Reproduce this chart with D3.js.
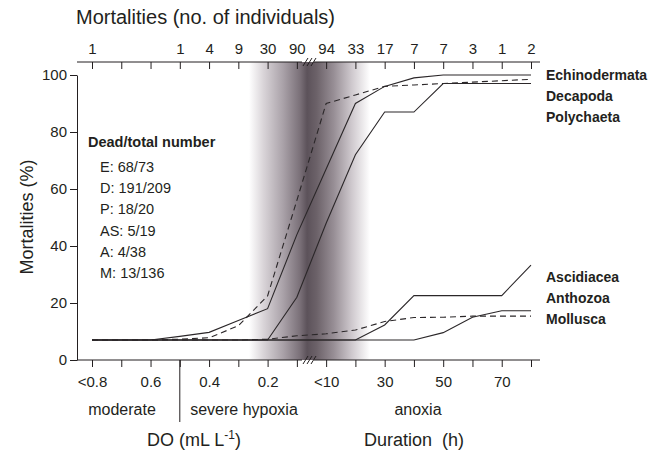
<!DOCTYPE html>
<html>
<head>
<meta charset="utf-8">
<script src="https://cdn.jsdelivr.net/npm/d3@7"></script>
<style>
  body { margin: 0; background: #fff; }
  svg { font-family: 'Liberation Sans', Arial, sans-serif; fill: #231f20; }
  .axis text { font-size: 15px; fill: #231f20; }
  .axis line, .axis path { stroke: #231f20; }
</style>
</head>
<body>
<div id="chart"></div>
<script>
// positions along the (broken) x axis: DO classes, then anoxia duration
const doLabels = ['<0.8', '', '0.6', '', '0.4', '', '0.2', '', '<10', '', '30', '', '50', '', '70', '']
const mortalityCounts = ['1', '', '', '1', '4', '9', '30', '90', '94', '33', '17', '7', '7', '3', '1', '2']
const yTicks = [0, 20, 40, 60, 80, 100]

const echinodermata = [7, 7, 7, 8.3, 9.7, 13.9, 18, 44, 67, 90, 96, 99, 100, 100, 100, 100]
const decapoda      = [7, 7, 7, 7.3, 7.8, 12, 22.5, 56, 90, 93, 96, 96.5, 97, 97.5, 98, 98.5]
const polychaeta    = [7, 7, 7, 7, 7, 7, 7, 22, 48, 72, 87, 87, 97, 97, 97, 97]
const ascidiacea    = [7, 7, 7, 7, 7, 7, 7, 7, 7, 7, 12.3, 22.6, 22.6, 22.6, 22.6, 33.3]
const anthozoa      = [7, 7, 7, 7, 7, 7, 7, 7, 7, 7, 7, 7, 9.6, 15, 17.3, 17.3]
const mollusca      = [7, 7, 7, 7, 7, 7, 7.3, 8.5, 9.2, 10.5, 13.5, 14.9, 15, 15.4, 15.4, 15.4]

const taxaUpper = ['Echinodermata', 'Decapoda', 'Polychaeta']
const taxaLower = ['Ascidiacea', 'Anthozoa', 'Mollusca']
const deadTotal = ['E: 68/73', 'D: 191/209', 'P: 18/20', 'AS: 5/19', 'A: 4/38', 'M: 13/136']
const zones = ['moderate', 'severe hypoxia', 'anoxia']

const series = [
  { name: 'Echinodermata', values: echinodermata, dashed: false },
  { name: 'Decapoda', values: decapoda, dashed: true },
  { name: 'Polychaeta', values: polychaeta, dashed: false },
  { name: 'Ascidiacea', values: ascidiacea, dashed: false },
  { name: 'Anthozoa', values: anthozoa, dashed: false },
  { name: 'Mollusca', values: mollusca, dashed: true }
]

const config = {
  width: 670, height: 454,
  plot: { left: 77, right: 540, top: 62, bottom: 360 },
  yTop: 75,
  breakX: 302
}

const svg = d3.select('#chart').append('svg')
  .attr('width', config.width)
  .attr('height', config.height)

const x = d3.scalePoint()
  .domain(d3.range(doLabels.length))
  .range([92, 531])

const y = d3.scaleLinear()
  .domain([0, 100])
  .range([config.plot.bottom, config.yTop])

// grey band around the hypoxia / anoxia transition
const grad = svg.append('defs').append('linearGradient')
  .attr('id', 'band')
  .attr('x1', 0).attr('x2', 1).attr('y1', 0).attr('y2', 0)
grad.selectAll('stop')
  .data([[0, '#ffffff'], [0.12, '#d9d4d8'], [0.28, '#aaa2a9'], [0.42, '#7b7179'], [0.48, '#5c525a'],
         [0.56, '#6c6269'], [0.7, '#978e95'], [0.85, '#cfc9ce'], [1, '#ffffff']])
  .join('stop')
  .attr('offset', d => d[0])
  .attr('stop-color', d => d[1])

svg.append('rect')
  .attr('x', 249).attr('width', 121)
  .attr('y', config.plot.top).attr('height', config.plot.bottom - config.plot.top)
  .attr('fill', 'url(#band)')

// y axis
svg.append('g')
  .attr('class', 'axis y')
  .attr('transform', `translate(${config.plot.left},0)`)
  .call(d3.axisLeft(y).tickValues(yTicks).tickSize(7).tickSizeOuter(0).tickPadding(3))

// bottom axis
svg.append('g')
  .attr('class', 'axis x bottom')
  .attr('transform', `translate(0,${config.plot.bottom})`)
  .call(d3.axisBottom(x).tickSize(7).tickPadding(9).tickFormat(i => doLabels[i]))
  .call(g => g.select('.domain').remove())

// top axis
svg.append('g')
  .attr('class', 'axis x top')
  .attr('transform', `translate(0,${config.plot.top})`)
  .call(d3.axisTop(x).tickSize(-7).tickPadding(8).tickFormat(i => mortalityCounts[i]))
  .call(g => g.select('.domain').remove())

// axis lines with the break
const axisLine = svg.append('g').attr('stroke', '#231f20').attr('stroke-width', 1)
;[config.plot.top, config.plot.bottom].forEach(yy => {
  axisLine.append('line').attr('x1', config.plot.left).attr('x2', config.breakX).attr('y1', yy).attr('y2', yy)
  axisLine.append('line').attr('x1', config.breakX + 12).attr('x2', config.plot.right).attr('y1', yy).attr('y2', yy)
  d3.range(3).forEach(k => {
    axisLine.append('line')
      .attr('x1', config.breakX + 1 + k * 4).attr('y1', yy + 4)
      .attr('x2', config.breakX + 6 + k * 4).attr('y2', yy - 4)
  })
})

// long divider between moderate and severe hypoxia
axisLine.append('line')
  .attr('x1', x(3)).attr('x2', x(3))
  .attr('y1', config.plot.bottom).attr('y2', 422)

// mortality curves
const line = d3.line()
  .x((d, i) => x(i))
  .y(d => y(d))

svg.append('g')
  .attr('class', 'curves')
  .selectAll('path')
  .data(series)
  .join('path')
  .attr('d', d => line(d.values))
  .attr('fill', 'none')
  .attr('stroke', '#2b2729')
  .attr('stroke-width', 1.1)
  .attr('stroke-dasharray', d => d.dashed ? '6,4' : null)

// taxa labels
svg.append('g')
  .attr('font-size', 14)
  .attr('font-weight', 'bold')
  .call(g => g.selectAll('text.upper')
    .data(taxaUpper)
    .join('text')
    .attr('x', 546)
    .attr('y', (d, i) => 80 + i * 21)
    .text(d => d))
  .call(g => g.selectAll('text.lower')
    .data(taxaLower)
    .join('text')
    .attr('x', 546)
    .attr('y', (d, i) => 282 + i * 21)
    .text(d => d))

// dead / total box
svg.append('text')
  .attr('x', 88).attr('y', 147)
  .attr('font-size', 14.5).attr('font-weight', 'bold')
  .text('Dead/total number')

svg.append('g')
  .attr('font-size', 14.5)
  .selectAll('text')
  .data(deadTotal)
  .join('text')
  .attr('x', 100)
  .attr('y', (d, i) => 172 + i * 21.2)
  .text(d => d)

// zone labels
svg.append('g')
  .attr('font-size', 16)
  .attr('text-anchor', 'middle')
  .selectAll('text')
  .data(zones)
  .join('text')
  .attr('x', (d, i) => [122, 244, 418][i])
  .attr('y', 415)
  .text(d => d)

// titles
svg.append('text')
  .attr('x', 76).attr('y', 24)
  .attr('font-size', 20)
  .text('Mortalities (no. of individuals)')

svg.append('text')
  .attr('transform', 'translate(33,217) rotate(-90)')
  .attr('text-anchor', 'middle')
  .attr('font-size', 18)
  .text('Mortalities (%)')

svg.append('text')
  .attr('x', 194).attr('y', 446)
  .attr('text-anchor', 'middle')
  .attr('font-size', 18)
  .call(t => t.append('tspan').text('DO (mL L'))
  .call(t => t.append('tspan').attr('dy', -7).attr('font-size', 12).text('-1'))
  .call(t => t.append('tspan').attr('dy', 7).text(')'))

svg.append('text')
  .attr('x', 414).attr('y', 446)
  .attr('text-anchor', 'middle')
  .attr('font-size', 18)
  .attr('xml:space', 'preserve')
  .text('Duration  (h)')
</script>
</body>
</html>
